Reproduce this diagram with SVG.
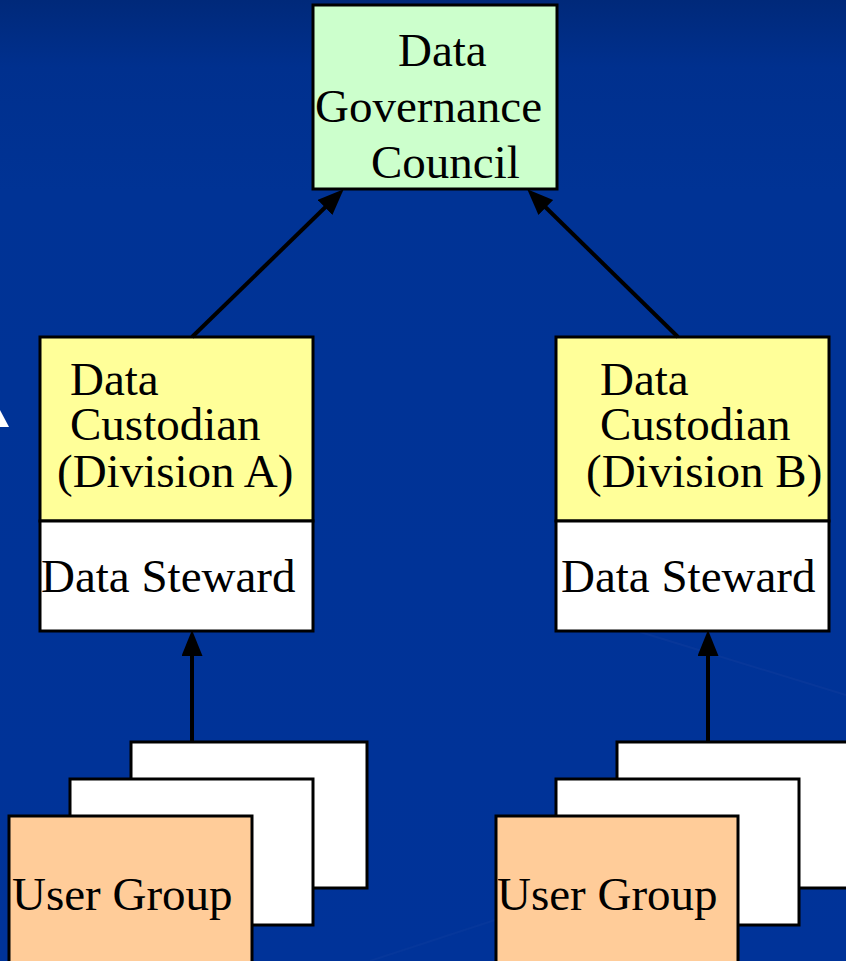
<svg xmlns="http://www.w3.org/2000/svg" width="846" height="961" viewBox="0 0 846 961">
  <style>
    .box { stroke: #000; stroke-width: 3; }
    .lbl { font-family: "Liberation Serif", "Times New Roman", serif; font-size: 47px; fill: #000; }
    .conn { stroke: #000; stroke-width: 4; fill: none; marker-end: url(#arrow); }
  </style>
  <defs>
    <linearGradient id="bg" x1="0" y1="0" x2="0" y2="1">
      <stop offset="0" stop-color="#00297a"/>
      <stop offset="0.07" stop-color="#00308e"/>
      <stop offset="0.2" stop-color="#003395"/>
      <stop offset="1" stop-color="#003399"/>
    </linearGradient>
    <marker id="arrow" markerUnits="userSpaceOnUse" markerWidth="27" markerHeight="23" refX="15" refY="10.5" orient="auto" viewBox="0 0 27 23">
      <path d="M0,0 L26,10.5 L0,21 Z" fill="#000"/>
    </marker>
  </defs>

  <rect x="0" y="0" width="846" height="961" fill="url(#bg)"/>
  <line x1="640" y1="632" x2="846" y2="695" stroke="#2a4fa8" stroke-width="2" stroke-opacity="0.18"/>
  <line x1="370" y1="961" x2="495" y2="920" stroke="#2a4fa8" stroke-width="2" stroke-opacity="0.15"/>
  <polygon points="0,410 9,427 0,427" fill="#ffffff"/>

  <g id="council">
    <rect class="box" x="313" y="5" width="244" height="184" fill="#ccffcc"/>
    <text class="lbl" x="398" y="66">Data</text>
    <text class="lbl" x="315" y="122">Governance</text>
    <text class="lbl" x="371" y="178">Council</text>
  </g>

  <g id="custodian-a">
    <rect class="box" x="40" y="337" width="273" height="184" fill="#ffff99"/>
    <rect class="box" x="40" y="521" width="273" height="110" fill="#ffffff"/>
    <text class="lbl" x="70" y="395">Data</text>
    <text class="lbl" x="70" y="440">Custodian</text>
    <text class="lbl" x="57" y="487">(Division A)</text>
    <text class="lbl" x="41" y="592">Data Steward</text>
  </g>

  <g id="custodian-b">
    <rect class="box" x="556" y="337" width="273" height="184" fill="#ffff99"/>
    <rect class="box" x="556" y="521" width="273" height="110" fill="#ffffff"/>
    <text class="lbl" x="600" y="395">Data</text>
    <text class="lbl" x="600" y="440">Custodian</text>
    <text class="lbl" x="586" y="487">(Division B)</text>
    <text class="lbl" x="561" y="592">Data Steward</text>
  </g>

  <g id="users-a">
    <rect class="box" x="131" y="742" width="236" height="146" fill="#ffffff"/>
    <rect class="box" x="70" y="779" width="243" height="146" fill="#ffffff"/>
    <rect class="box" x="9" y="816" width="243" height="160" fill="#ffcc99"/>
    <text class="lbl" x="12" y="910">User Group</text>
  </g>

  <g id="users-b">
    <rect class="box" x="617" y="742" width="250" height="146" fill="#ffffff"/>
    <rect class="box" x="556" y="779" width="243" height="146" fill="#ffffff"/>
    <rect class="box" x="496" y="816" width="242" height="160" fill="#ffcc99"/>
    <text class="lbl" x="497" y="910">User Group</text>
  </g>

  <g id="connectors">
    <line class="conn" x1="192" y1="337" x2="335.8" y2="197"/>
    <line class="conn" x1="678" y1="337" x2="535.1" y2="197"/>
    <line class="conn" x1="192" y1="742" x2="192" y2="641"/>
    <line class="conn" x1="708" y1="742" x2="708" y2="641"/>
  </g>
</svg>
